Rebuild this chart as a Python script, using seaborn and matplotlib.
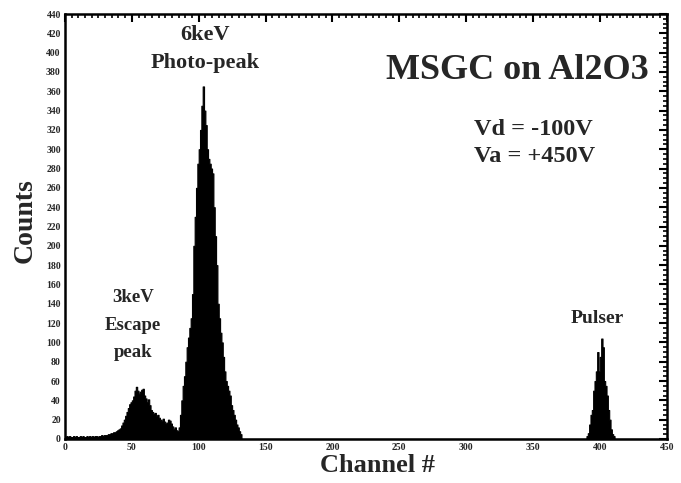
import numpy as np
import pandas as pd
import matplotlib
matplotlib.use("Agg")
import matplotlib.pyplot as plt
import seaborn as sns
from matplotlib.ticker import MultipleLocator

# ---- data ----
low_channels = list(range(0, 30))
low_counts = [2, 3, 2, 3, 2, 2, 3, 2, 3, 2, 2, 3, 2, 3, 2, 2, 3, 2, 3, 2,
              3, 2, 3, 3, 2, 3, 3, 4, 3, 4]

escape_channels = list(range(30, 84))
escape_counts = [4, 4, 5, 5, 6, 6, 7, 7, 8, 9, 10, 11, 14, 17, 20, 24, 28, 32,
                 36, 38, 40, 44, 50, 54, 50, 47, 49, 51, 52, 45, 42, 38, 41, 35,
                 30, 28, 26, 27, 24, 25, 22, 20, 19, 21, 18, 16, 17, 20, 19, 16,
                 13, 10, 12, 9]

photo_channels = list(range(84, 132))
photo_counts = [8, 12, 25, 40, 55, 65, 80, 95, 105, 115, 125, 150, 200, 230,
                260, 285, 300, 320, 345, 365, 340, 325, 300, 290, 285, 280, 275,
                240, 210, 180, 140, 125, 110, 100, 85, 70, 60, 55, 50, 45, 35,
                30, 25, 20, 15, 12, 8, 5]

pulser_channels = list(range(390, 411))
pulser_counts = [3, 6, 15, 25, 30, 50, 60, 70, 90, 70, 85, 104, 95, 60, 55, 45,
                 30, 20, 10, 5, 3]

x_ticks = [0, 50, 100, 150, 200, 250, 300, 350, 400, 450]
y_ticks = list(range(0, 441, 20))

df = pd.DataFrame({
    "channel": low_channels + escape_channels + photo_channels + pulser_channels,
    "counts": low_counts + escape_counts + photo_counts + pulser_counts,
})
df["channel"] = df["channel"].astype(float) + 0.5

# ---- plot ----
sns.set_theme(style="white")
plt.rcParams['font.family'] = ['Liberation Serif', 'DejaVu Serif']

fig = plt.figure(figsize=(6.81, 4.83), dpi=100)
ax = fig.add_axes([0.0954, 0.0911, 0.8836, 0.8799])

sns.histplot(data=df, x="channel", weights="counts",
             binwidth=1, binrange=(0, 450), element="step", fill=True,
             color="black", linewidth=0.8, alpha=1.0, ax=ax)

ax.set_xlim(0, 450)
ax.set_ylim(0, 440)
ax.set_xticks(x_ticks)
ax.set_yticks(y_ticks)
ax.xaxis.set_minor_locator(MultipleLocator(5))
ax.yaxis.set_minor_locator(MultipleLocator(5))
ax.tick_params(axis="both", which="major", direction="in", length=6, width=1.5,
               top=True, right=True, labelsize=7, color="black", pad=3)
ax.tick_params(axis="both", which="minor", direction="in", length=3, width=1.2,
               top=True, right=True, color="black")
for lab in ax.get_xticklabels() + ax.get_yticklabels():
    lab.set_fontweight("bold")
for s in ax.spines.values():
    s.set_color("black")
    s.set_linewidth(1.8)

ax.set_xlabel("Channel #", fontsize=19, fontweight="bold")
ax.set_ylabel("Counts", fontsize=20, fontweight="bold")
ax.xaxis.set_label_coords(0.52, -0.035)
ax.yaxis.set_label_coords(-0.045, 0.515)

ax.text(105, 418, "6keV", ha="center", va="center", fontsize=16, fontweight="bold")
ax.text(105, 389, "Photo-peak", ha="center", va="center", fontsize=16, fontweight="bold")
ax.text(338, 382, "MSGC on Al2O3", ha="center", va="center", fontsize=26, fontweight="bold")
ax.text(306, 320, "Vd = -100V", ha="left", va="center", fontsize=17.5, fontweight="bold")
ax.text(306, 292, "Va = +450V", ha="left", va="center", fontsize=17.5, fontweight="bold")
ax.text(51, 146, "3keV", ha="center", va="center", fontsize=13.5, fontweight="bold")
ax.text(51, 118, "Escape", ha="center", va="center", fontsize=13.5, fontweight="bold")
ax.text(51, 90, "peak", ha="center", va="center", fontsize=13.5, fontweight="bold")
ax.text(398, 125, "Pulser", ha="center", va="center", fontsize=14, fontweight="bold")

fig.savefig("out.png", dpi=100, facecolor="white")
